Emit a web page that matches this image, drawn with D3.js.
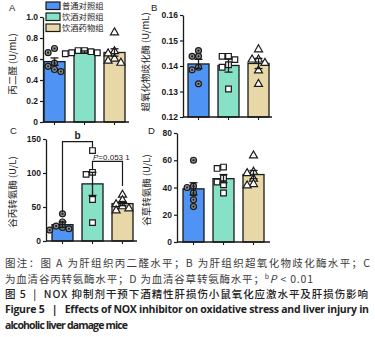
<!DOCTYPE html>
<html>
<head>
<meta charset="utf-8">
<script src="https://cdn.jsdelivr.net/npm/d3@7"></script>
<style>
  body { margin: 0; background: #fff; }
  svg { display: block; }
</style>
</head>
<body>
<div id="chart"></div>
<script>
// Groups (legend order)
const groups = ["普通对照组", "饮酒对照组", "饮酒药物组"];

// A: 丙二醛 (U/mL)
const mdaPoints = [[0.70, 0.66, 0.56, 0.53, 0.50, 0.48], [0.68, 0.68, 0.67, 0.66, 0.66, 0.65], [0.86, 0.68, 0.66, 0.61, 0.59, 0.57]];
const mdaMeans = [0.575, 0.667, 0.662];
const mdaSems = [0.035, 0.01, 0.035];
const mdaTicks = [0, 0.2, 0.4, 0.6, 0.8, 1.0];

// B: 超氧化物歧化酶 (U/mL)
const sodPoints = [[0.1460, 0.1438, 0.1438, 0.1395, 0.1385, 0.1330], [0.1438, 0.1438, 0.1425, 0.1405, 0.1395, 0.1310], [0.1468, 0.1428, 0.1428, 0.1415, 0.1385, 0.1332]];
const sodMeans = [0.1408, 0.1402, 0.1410];
const sodSems = [0.0018, 0.0026, 0.0020];
const sodTicks = [0.12, 0.13, 0.14, 0.15, 0.16];

// C: 谷丙转氨酶 (U/L)
const altPoints = [[40, 28, 22, 20, 18, 16], [133, 101, 98, 61, 27], [69, 61, 55, 52, 49, 46]];
const altMeans = [24, 84, 55];
const altSems = [4, 17, 3];
const altTicks = [0, 50, 100, 150];
const altBrackets = [
  { from: 0, to: 1, top: 146, leftEnd: 43, rightEnd: 137, label: "b" },
  { from: 1, to: 2, top: 117, leftEnd: 104, rightEnd: 81, label: "P=0.053 1" }
];

// D: 谷草转氨酶 (U/L)
const astPoints = [[60, 41, 40, 36, 31, 26], [55, 54, 47, 44, 42, 36], [64, 52, 51, 47, 43, 42]];
const astMeans = [39, 46.5, 49.5];
const astSems = [4.5, 3, 3];
const astTicks = [0, 20, 40, 60, 80];

const W = 375, H = 337;
const cjkFont = '"Noto Sans CJK SC", "Noto Sans", sans-serif';
const numFont = 'Arial, "Liberation Sans", sans-serif';
const latinFont = '"Open Sans", "Noto Sans", sans-serif';
const barColors = ["#4f94f5", "#86e1c7", "#e9d8a7"];
const ink = "#1a1a1a";
const NB = "\u00a0";

const svg = d3.select("#chart").append("svg")
  .attr("width", W).attr("height", H);
svg.append("rect").attr("width", W).attr("height", H).attr("fill", "#fff");

const panels = [
  { letter: "A", title: "丙二醛 (U/mL)", points: mdaPoints, means: mdaMeans, sems: mdaSems, ticks: mdaTicks,
    fmt: d => d === 0 ? "0" : d.toFixed(1), axisX: 43, y0: 122, yTop: 17, barX: 44, axisEnd: 129,
    letterPos: [9, 11], titlePos: [13, 64] },
  { letter: "B", title: "超氧化物歧化酶 (U/mL)", points: sodPoints, means: sodMeans, sems: sodSems, ticks: sodTicks,
    fmt: d => d.toFixed(2), axisX: 183, y0: 117, yTop: 15, barX: 188, axisEnd: 272,
    letterPos: [151, 11], titlePos: [146, 62] },
  { letter: "C", title: "谷丙转氨酶 (U/L)", points: altPoints, means: altMeans, sems: altSems, ticks: altTicks,
    fmt: d => String(d), axisX: 46, y0: 241, yTop: 139, barX: 52, axisEnd: 137,
    letterPos: [10, 134], titlePos: [13, 192], brackets: altBrackets },
  { letter: "D", title: "谷草转氨酶 (U/L)", points: astPoints, means: astMeans, sems: astSems, ticks: astTicks,
    fmt: d => String(d), axisX: 177, y0: 242, yTop: 133, barX: 183, axisEnd: 270,
    letterPos: [148, 134], titlePos: [147, 190] }
];

const symbols = [d3.symbolCircle, d3.symbolSquare, d3.symbolTriangle];
const symbolSizes = [28, 32, 28];

// simple horizontal swarm so overlapping points spread sideways
function swarm(vals, y, cx) {
  const placed = [];
  const out = new Array(vals.length);
  const order = vals.map((v, i) => i).sort((a, b) => vals[b] - vals[a]);
  order.forEach(i => {
    const py = y(vals[i]);
    for (let k = 0; k < 30; k++) {
      const off = k === 0 ? 0 : (k % 2 ? -1 : 1) * Math.ceil(k / 2) * 3.2;
      const px = cx + off;
      if (placed.every(q => Math.hypot(q.x - px, q.y - py) >= 5.4)) {
        placed.push({ x: px, y: py });
        out[i] = { x: px, y: py };
        break;
      }
    }
  });
  return out;
}

function drawPanel(p) {
  const g = svg.append("g");
  const y = d3.scaleLinear()
    .domain([p.ticks[0], p.ticks[p.ticks.length - 1]])
    .range([p.y0, p.yTop]);
  const x = d3.scaleBand().domain(groups)
    .range([p.barX, p.barX + 81])
    .paddingInner(0.3).paddingOuter(0);

  // bars
  g.selectAll(".bar").data(p.means).enter().append("rect")
    .attr("x", (d, i) => x(groups[i]))
    .attr("y", d => y(d))
    .attr("width", x.bandwidth())
    .attr("height", d => p.y0 - y(d))
    .attr("fill", (d, i) => barColors[i])
    .attr("stroke", ink).attr("stroke-width", 1.3);

  // points
  p.points.forEach((vals, gi) => {
    const cx = x(groups[gi]) + x.bandwidth() / 2;
    const pos = swarm(vals, y, cx);
    pos.forEach(pt => {
      g.append("path")
        .attr("d", d3.symbol().type(symbols[gi]).size(symbolSizes[gi])())
        .attr("transform", `translate(${pt.x},${pt.y + (gi === 2 ? 0.8 : 0)})`)
        .attr("fill", gi === 0 ? "#8d9095" : "#fff")
        .attr("stroke", ink).attr("stroke-width", 1.2);
      if (gi === 0) {
        g.append("circle").attr("cx", pt.x).attr("cy", pt.y).attr("r", 1.1).attr("fill", ink);
      }
    });
  });

  // error bars (mean ± SEM)
  p.means.forEach((m, i) => {
    const cx = x(groups[i]) + x.bandwidth() / 2;
    const lo = y(m - p.sems[i]), hi = y(m + p.sems[i]);
    g.append("line").attr("x1", cx).attr("x2", cx).attr("y1", lo).attr("y2", hi)
      .attr("stroke", ink).attr("stroke-width", 1.3);
    [lo, hi].forEach(yy => g.append("line")
      .attr("x1", cx - 4).attr("x2", cx + 4).attr("y1", yy).attr("y2", yy)
      .attr("stroke", ink).attr("stroke-width", 1.3));
  });

  // y axis
  const yAxis = g.append("g")
    .attr("transform", `translate(${p.axisX},0)`)
    .call(d3.axisLeft(y).tickValues(p.ticks).tickFormat(p.fmt).tickSize(3).tickSizeOuter(0).tickPadding(2));
  yAxis.select(".domain").attr("stroke", ink).attr("stroke-width", 1.3);
  yAxis.selectAll(".tick line").attr("stroke", ink).attr("stroke-width", 1.2);
  yAxis.selectAll("text")
    .attr("font-family", numFont).attr("font-weight", "bold")
    .attr("font-size", 8.5).attr("fill", ink);

  // x axis
  g.append("line").attr("x1", p.axisX).attr("x2", p.axisEnd)
    .attr("y1", p.y0).attr("y2", p.y0)
    .attr("stroke", ink).attr("stroke-width", 1.3);
  const xAxis = g.append("g")
    .attr("transform", `translate(0,${p.y0})`)
    .call(d3.axisBottom(x).tickSize(3).tickFormat(""));
  xAxis.select(".domain").remove();
  xAxis.selectAll(".tick line").attr("stroke", ink).attr("stroke-width", 1.1);

  // axis title
  g.append("text")
    .attr("transform", `translate(${p.titlePos[0]},${p.titlePos[1]}) rotate(-90)`)
    .attr("text-anchor", "middle").attr("dy", "0.35em")
    .attr("font-family", cjkFont).attr("font-size", 9.5).attr("fill", ink)
    .text(p.title);

  // panel letter
  g.append("text").attr("x", p.letterPos[0]).attr("y", p.letterPos[1])
    .attr("font-family", numFont).attr("font-size", 9.5).attr("fill", ink)
    .text(p.letter);

  // significance brackets
  (p.brackets || []).forEach(b => {
    const x1 = x(groups[b.from]) + x.bandwidth() / 2;
    const x2 = x(groups[b.to]) + x.bandwidth() / 2;
    const yt = y(b.top);
    g.append("path")
      .attr("d", `M${x1},${y(b.leftEnd)}V${yt}H${x2}V${y(b.rightEnd)}`)
      .attr("fill", "none").attr("stroke", ink).attr("stroke-width", 1.2);
    if (b.label === "b") {
      g.append("text").attr("x", (x1 + x2) / 2).attr("y", yt - 3)
        .attr("text-anchor", "middle").attr("font-family", numFont)
        .attr("font-weight", "bold").attr("font-size", 10).attr("fill", ink)
        .text(b.label);
    } else {
      const t = g.append("text").attr("x", x1 + 0.5).attr("y", yt - 1)
        .attr("font-family", numFont).attr("font-size", 8).attr("fill", ink);
      t.append("tspan").attr("font-style", "italic").text(b.label.slice(0, 1));
      t.append("tspan").text(b.label.slice(1).replace(" ", NB));
    }
  });
}

panels.forEach(drawPanel);

// legend
const legend = svg.append("g");
groups.forEach((name, i) => {
  const ly = 2 + i * 11;
  legend.append("rect").attr("x", 46).attr("y", ly).attr("width", 14).attr("height", 7.5)
    .attr("fill", barColors[i]).attr("stroke", ink).attr("stroke-width", 1.2);
  legend.append("text").attr("x", 62).attr("y", ly + 7.3)
    .attr("font-family", cjkFont).attr("font-size", 8.3).attr("fill", ink)
    .text(name);
});

// caption
const cap = svg.append("g").attr("font-family", cjkFont);
cap.append("text").attr("x", 5).attr("y", 267).attr("font-size", 10.5).attr("fill", "#3a3a3a")
  .attr("textLength", 365).attr("lengthAdjust", "spacing")
  .text("图注：图 A 为肝组织丙二醛水平；B 为肝组织超氧化物歧化酶水平；C");
const l2 = cap.append("text").attr("x", 5).attr("y", 283).attr("font-size", 10.5).attr("fill", "#3a3a3a")
  .attr("textLength", 308).attr("lengthAdjust", "spacing");
l2.append("tspan").text("为血清谷丙转氨酶水平；D 为血清谷草转氨酶水平；");
l2.append("tspan").attr("font-size", 7).attr("dy", -4).text("b");
l2.append("tspan").attr("font-style", "italic").attr("dy", 4).text("P");
l2.append("tspan").text(" < 0.01");
cap.append("text").attr("x", 5).attr("y", 298).attr("font-size", 10.5).attr("fill", "#222")
  .attr("font-weight", 500)
  .attr("textLength", 363).attr("lengthAdjust", "spacing")
  .text(`图 5${NB}${NB}|${NB}${NB}NOX 抑制剂干预下酒精性肝损伤小鼠氧化应激水平及肝损伤影响`);
cap.append("text").attr("x", 5).attr("y", 313).attr("font-size", 10.5).attr("fill", "#222")
  .attr("font-weight", "bold").attr("font-family", latinFont)
  .attr("textLength", 364).attr("lengthAdjust", "spacing")
  .text(`Figure 5${NB}${NB}${NB}|${NB}${NB}${NB}Effects of NOX inhibitor on oxidative stress and liver injury in`);
cap.append("text").attr("x", 5).attr("y", 329).attr("font-size", 10.5).attr("fill", "#222")
  .attr("font-weight", "bold").attr("font-family", latinFont)
  .attr("textLength", 123).attr("lengthAdjust", "spacing")
  .text("alcoholic liver damage mice");
</script>
</body>
</html>
